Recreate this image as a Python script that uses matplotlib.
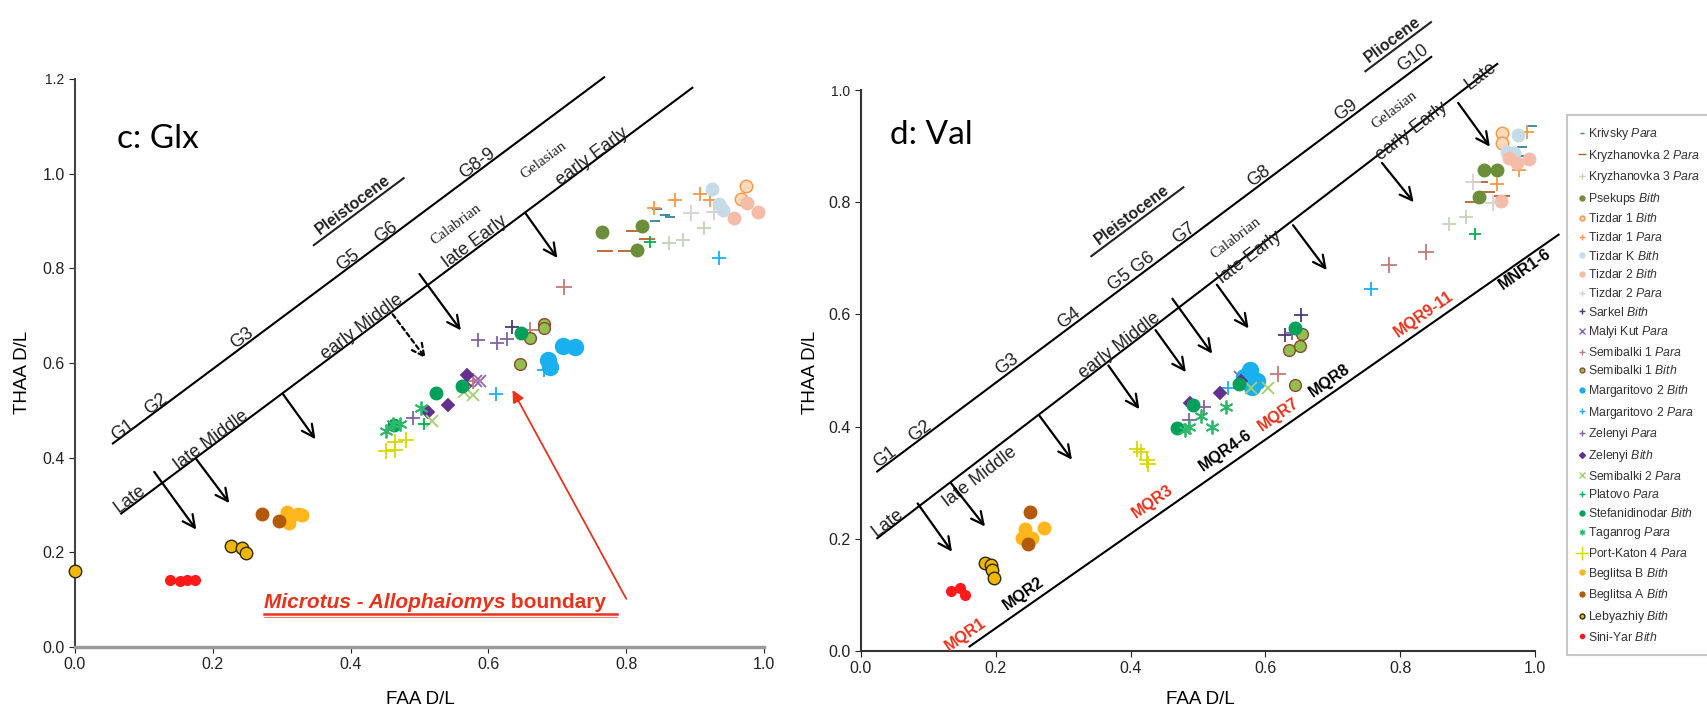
import numpy as np
import matplotlib
matplotlib.use('Agg')
import matplotlib.pyplot as plt
from matplotlib.lines import Line2D

plt.rcParams['font.family'] = ['Liberation Sans', 'DejaVu Sans']
plt.rcParams['mathtext.fontset'] = 'custom'
plt.rcParams['mathtext.it'] = 'Liberation Sans:italic'
plt.rcParams['mathtext.rm'] = 'Liberation Sans'

# ---- series (legend order) ----
names = ['Krivsky Para', 'Kryzhanovka 2 Para', 'Kryzhanovka 3 Para', 'Psekups Bith',
         'Tizdar 1 Bith', 'Tizdar 1 Para', 'Tizdar K Bith', 'Tizdar 2 Bith', 'Tizdar 2 Para',
         'Sarkel Bith', 'Malyi Kut Para', 'Semibalki 1 Para', 'Semibalki 1 Bith',
         'Margaritovo 2 Bith', 'Margaritovo 2 Para', 'Zelenyi Para', 'Zelenyi Bith',
         'Semibalki 2 Para', 'Platovo Para', 'Stefanidinodar Bith', 'Taganrog Para',
         'Port-Katon 4 Para', 'Beglitsa B Bith', 'Beglitsa A Bith', 'Lebyazhiy Bith', 'Sini-Yar Bith']

# ---- c: Glx (FAA x, THAA y) ----
glx_krivsky = ([0.842, 0.857, 0.864, 0.845], [0.900, 0.912, 0.909, 0.925])
glx_kryzh2 = ([0.769, 0.800, 0.812, 0.830], [0.836, 0.836, 0.879, 0.862])
glx_kryzh3 = ([0.862, 0.882, 0.913], [0.853, 0.860, 0.885])
glx_psekups = ([0.765, 0.823, 0.815], [0.877, 0.890, 0.838])
glx_tizdar1_bith = ([0.974, 0.967], [0.975, 0.946])
glx_tizdar1_para = ([0.840, 0.871, 0.907, 0.922], [0.927, 0.944, 0.957, 0.944])
glx_tizdark = ([0.925, 0.934, 0.940], [0.967, 0.935, 0.924])
glx_tizdar2_bith = ([0.956, 0.991, 0.975], [0.907, 0.918, 0.939])
glx_tizdar2_para = ([0.894, 0.928], [0.916, 0.918])
glx_sarkel = ([0.634], [0.676])
glx_malyi = ([0.582, 0.588], [0.561, 0.563])
glx_semib1_para = ([0.709, 0.661, 0.577], [0.761, 0.669, 0.563])
glx_semib1_bith = ([0.680, 0.680, 0.661, 0.646], [0.682, 0.674, 0.652, 0.598])
glx_marg2_bith = ([0.708, 0.725, 0.686, 0.689], [0.636, 0.633, 0.607, 0.592])
glx_marg2_para = ([0.934, 0.611, 0.680], [0.821, 0.535, 0.585])
glx_zelenyi_para = ([0.585, 0.613, 0.627, 0.491], [0.649, 0.643, 0.651, 0.484])
glx_zelenyi_bith = ([0.569, 0.541, 0.513, 0.566], [0.574, 0.512, 0.497, 0.552])
glx_semib2 = ([0.565, 0.577, 0.518], [0.539, 0.533, 0.477])
glx_platovo = ([0.834, 0.507], [0.855, 0.472])
glx_stefan = ([0.463, 0.524, 0.561, 0.648], [0.469, 0.537, 0.552, 0.663])
glx_taganrog = ([0.451, 0.461, 0.471, 0.502], [0.457, 0.472, 0.472, 0.504])
glx_portkaton = ([0.451, 0.465, 0.464, 0.481], [0.414, 0.417, 0.433, 0.437])
glx_beglb = ([0.308, 0.310, 0.324, 0.329], [0.286, 0.262, 0.280, 0.278])
glx_begla = ([0.271, 0.296], [0.280, 0.266])
glx_lebyaz = ([0.0, 0.226, 0.243, 0.248], [0.161, 0.213, 0.209, 0.198])
glx_siniyar = ([0.138, 0.153, 0.163, 0.174], [0.142, 0.140, 0.142, 0.142])

# ---- d: Val ----
val_krivsky = ([0.995, 0.980, 0.977], [0.936, 0.899, 0.883])
val_kryzh2 = ([0.908, 0.919, 0.929, 0.951], [0.800, 0.836, 0.819, 0.811])
val_kryzh3 = ([0.873, 0.897], [0.762, 0.774])
val_psekups = ([0.924, 0.944, 0.917], [0.858, 0.858, 0.810])
val_tizdar1_bith = ([0.951, 0.951], [0.924, 0.905])
val_tizdar1_para = ([0.944, 0.977, 0.988], [0.833, 0.857, 0.926])
val_tizdark = ([0.975, 0.959, 0.969], [0.920, 0.890, 0.887])
val_tizdar2_bith = ([0.950, 0.973, 0.991, 0.962], [0.803, 0.869, 0.877, 0.878])
val_tizdar2_para = ([0.908, 0.938], [0.836, 0.799])
val_sarkel = ([0.653, 0.629], [0.599, 0.564])
val_malyi = ([0.562], [0.489])
val_semib1_para = ([0.618, 0.783, 0.839], [0.493, 0.688, 0.711])
val_semib1_bith = ([0.635, 0.651, 0.654, 0.644], [0.536, 0.544, 0.565, 0.474])
val_marg2_bith = ([0.577, 0.588, 0.580, 0.568], [0.501, 0.482, 0.470, 0.489])
val_marg2_para = ([0.544, 0.757], [0.468, 0.645])
val_zelenyi_para = ([0.509, 0.486, 0.640], [0.435, 0.412, 0.566])
val_zelenyi_bith = ([0.488, 0.533, 0.564], [0.442, 0.460, 0.482])
val_semib2 = ([0.604, 0.579], [0.468, 0.468])
val_platovo = ([0.911], [0.743])
val_stefan = ([0.469, 0.493, 0.561, 0.644], [0.397, 0.439, 0.476, 0.576])
val_taganrog = ([0.480, 0.486, 0.504, 0.521, 0.542], [0.394, 0.400, 0.419, 0.400, 0.435])
val_portkaton = ([0.409, 0.416, 0.424, 0.426], [0.360, 0.355, 0.341, 0.334])
val_beglb = ([0.244, 0.239, 0.253, 0.271], [0.218, 0.201, 0.201, 0.219])
val_begla = ([0.251, 0.248], [0.248, 0.190])
val_lebyaz = ([0.184, 0.193, 0.195, 0.197], [0.156, 0.153, 0.144, 0.131])
val_siniyar = ([0.133, 0.147, 0.155], [0.107, 0.112, 0.099])

glx_series = [glx_krivsky, glx_kryzh2, glx_kryzh3, glx_psekups, glx_tizdar1_bith, glx_tizdar1_para,
              glx_tizdark, glx_tizdar2_bith, glx_tizdar2_para, glx_sarkel, glx_malyi, glx_semib1_para,
              glx_semib1_bith, glx_marg2_bith, glx_marg2_para, glx_zelenyi_para, glx_zelenyi_bith,
              glx_semib2, glx_platovo, glx_stefan, glx_taganrog, glx_portkaton, glx_beglb, glx_begla,
              glx_lebyaz, glx_siniyar]
val_series = [val_krivsky, val_kryzh2, val_kryzh3, val_psekups, val_tizdar1_bith, val_tizdar1_para,
              val_tizdark, val_tizdar2_bith, val_tizdar2_para, val_sarkel, val_malyi, val_semib1_para,
              val_semib1_bith, val_marg2_bith, val_marg2_para, val_zelenyi_para, val_zelenyi_bith,
              val_semib2, val_platovo, val_stefan, val_taganrog, val_portkaton, val_beglb, val_begla,
              val_lebyaz, val_siniyar]

# marker, face, edge, size(pt), legend size
styles = [
    ('_', '#31849B', '#31849B', 7, 3),
    ('_', '#B7622B', '#B7622B', 11, 6),
    ('+', '#C5D3B8', '#C5D3B8', 10, 5),
    ('o', '#6B8E3A', '#6B8E3A', 9, 3.5),
    ('o', '#FBD9BC', '#F79646', 9, 3.5),
    ('+', '#F79646', '#F79646', 10, 5),
    ('o', '#C6DBE8', '#C6DBE8', 9, 3.5),
    ('o', '#F5BCA8', '#F5BCA8', 9, 3.5),
    ('+', '#D8CFD2', '#D8CFD2', 11, 5),
    ('+', '#4A3A7A', '#4A3A7A', 10, 5),
    ('x', '#8E66C0', '#8E66C0', 9, 4),
    ('+', '#C47A7A', '#C47A7A', 11, 5),
    ('o', '#92C050', '#8B4A2B', 8.5, 3.5),
    ('o', '#1AAFEF', '#1AAFEF', 11.5, 3.5),
    ('+', '#1AAFEF', '#1AAFEF', 10, 5),
    ('+', '#8064A2', '#8064A2', 10, 5),
    ('D', '#62308F', '#62308F', 6.5, 3),
    ('x', '#A3CF6E', '#A3CF6E', 9, 4),
    ('+', '#00B050', '#00B050', 9, 5),
    ('o', '#00A05A', '#00A05A', 9, 3.5),
    ((6, 2, 0), '#2EB86A', '#2EB86A', 10, 4),
    ('+', '#D8D800', '#D8D800', 12, 10),
    ('o', '#FFB51C', '#FFB51C', 9, 3.5),
    ('o', '#B35A0A', '#B35A0A', 9, 3.5),
    ('o', '#F2B705', '#2A2A00', 9, 3.5),
    ('o', '#FF1A1A', '#FF1A1A', 7, 3),
]

fig = plt.figure(figsize=(17.08, 7.22), dpi=100)
W, H = 1708.0, 722.0
axc = fig.add_axes([75 / W, 1 - 647 / H, 689 / W, 568 / H])
axd = fig.add_axes([861 / W, 1 - 651 / H, 674 / W, 561 / H])
axc.set_xlim(0, 1)
axc.set_ylim(0, 1.2)
axd.set_xlim(0, 1)
axd.set_ylim(0, 1)


def draw_points(ax, series):
    for (xs, ys), (m, fc, ec, ms, _) in zip(series, styles):
        lw = 1.0 if m == 'o' else 1.3
        ax.plot(xs, ys, ls='', marker=m, ms=ms, mfc=fc, mec=ec, mew=lw, clip_on=False, zorder=3)


draw_points(axc, glx_series)
draw_points(axd, val_series)

for ax in (axc, axd):
    for s in ('top', 'right'):
        ax.spines[s].set_visible(False)
    ax.tick_params(direction='out', length=4, labelsize=11.5, colors='#222222')
    ax.set_xticks(np.arange(0, 1.01, 0.2))
    ax.xaxis.set_major_formatter(matplotlib.ticker.FormatStrFormatter('%.1f'))
    ax.yaxis.set_major_formatter(matplotlib.ticker.FormatStrFormatter('%.1f'))
axc.set_yticks(np.arange(0, 1.21, 0.2))
axd.set_yticks(np.arange(0, 1.01, 0.2))
axc.spines['left'].set_color('#444444')
axc.spines['left'].set_linewidth(1.5)
axc.spines['bottom'].set_color('#9A9A9A')
axc.spines['bottom'].set_linewidth(2.5)
for s in ('left', 'bottom'):
    axd.spines[s].set_color('#333333')
    axd.spines[s].set_linewidth(1.5)
axc.get_yticklabels()[-1].set_fontsize(10)
axd.get_yticklabels()[-1].set_fontsize(10)

fig.text(23 / W, 1 - 372 / H, 'THAA D/L', rotation=90, ha='center', va='center', fontsize=13.5)
fig.text(811 / W, 1 - 372 / H, 'THAA D/L', rotation=90, ha='center', va='center', fontsize=13.5)
fig.text(420 / W, 1 - 700 / H, 'FAA D/L', ha='center', va='center', fontsize=13.5)
fig.text(1200 / W, 1 - 700 / H, 'FAA D/L', ha='center', va='center', fontsize=13.5)

axc.text(0.12, 1.074, 'c: Glx', fontsize=24, family=['Lato', 'DejaVu Sans'], ha='center', va='center')
axd.text(0.104, 0.920, 'd: Val', fontsize=24, family=['Lato', 'DejaVu Sans'], ha='center', va='center')


def line_text(ax, x, y, s, slope, size=12.5, **kw):
    ang = np.degrees(np.arctan(slope))
    kw.setdefault('color', '#222222')
    return ax.text(x, y, s, rotation=ang, rotation_mode='anchor', ha='center', va='center',
                   transform_rotates_text=True, fontsize=size, clip_on=False, **kw)


def shifted(ax, x, y, slope, along=0.0, off=0.0):
    # move a data point along a line of given slope and perpendicular to it, in pixels
    p = ax.transData.transform((x, y))
    q = ax.transData.transform((x + 0.1, y + 0.1 * slope))
    u = (q - p) / np.hypot(*(q - p))
    n = np.array([-u[1], u[0]])
    return ax.transData.inverted().transform(p + u * along + n * off)


def on_line_text(ax, line, xpos, off, s, **kw):
    (x0, y0), slope = line
    px, py = shifted(ax, xpos, y0 + slope * (xpos - x0), slope, 0, off)
    return line_text(ax, px, py, s, slope, **kw)


def underline(ax, x, y, slope, length, off, color='#222222', lw=1.5):
    a = shifted(ax, x, y, slope, -length / 2, -off)
    b = shifted(ax, x, y, slope, length / 2, -off)
    ax.plot([a[0], b[0]], [a[1], b[1]], color=color, lw=lw, clip_on=False)


def arrow(ax, start, end, ls='-', color='k', lw=1.6, style='->', scale=22):
    ax.annotate('', xy=end, xytext=start, annotation_clip=False,
                arrowprops=dict(arrowstyle=style, color=color, lw=lw, ls=ls,
                                mutation_scale=scale, shrinkA=0, shrinkB=0))


# ---- c: Glx decorations ----
sc = 1.085
axc.plot([0.055, 0.768], [0.430, 0.430 + sc * 0.713], color='k', lw=1.5, clip_on=False)
axc.plot([0.067, 0.896], [0.282, 0.282 + sc * 0.829], color='k', lw=1.5, clip_on=False)
for x, y, s in [(0.070, 0.457, 'G1'), (0.118, 0.512, 'G2'), (0.242, 0.652, 'G3'),
                (0.397, 0.818, 'G5'), (0.452, 0.877, 'G6'), (0.584, 1.022, 'G8-9')]:
    line_text(axc, x, y, s, sc, size=13)
line_text(axc, 0.404, 0.935, 'Pleistocene', sc, size=11.5, weight='bold')
underline(axc, 0.404, 0.935, sc, 112, 9)
for x, y, s in [(0.080, 0.312, 'Late'), (0.198, 0.437, 'late Middle'), (0.417, 0.676, 'early Middle'),
                (0.580, 0.857, 'late Early'), (0.750, 1.035, 'early Early')]:
    line_text(axc, x, y, s, sc, size=13)
line_text(axc, 0.553, 0.893, 'Calabrian', sc, size=11, family='Liberation Serif')
line_text(axc, 0.680, 1.028, 'Gelasian', sc, size=11, family='Liberation Serif')
for st, en in [((0.115, 0.370), (0.176, 0.248)), ((0.176, 0.397), (0.224, 0.304)),
               ((0.302, 0.534), (0.349, 0.439)), ((0.500, 0.788), (0.560, 0.669)),
               ((0.654, 0.916), (0.700, 0.822))]:
    arrow(axc, st, en)
arrow(axc, (0.461, 0.703), (0.509, 0.610), ls=(0, (2, 1.5)))
arrow(axc, (0.800, 0.102), (0.635, 0.543), color='#E8331C', lw=1.3, style='-|>', scale=18)
t1 = axc.text(0.274, 0.094, 'Microtus - Allophaiomys', color='#E8331C', fontsize=15,
              weight='bold', style='italic', ha='left', va='center')
axc.annotate(' boundary', xy=(1, 0.5), xycoords=t1, color='#E8331C', fontsize=15,
             weight='bold', ha='left', va='center')
axc.plot([0.274, 0.786], [0.070, 0.070], color='#E8331C', lw=1.8)
axc.plot([0.274, 0.786], [0.064, 0.064], color='#F08070', lw=0.8)

# ---- d: Val decorations ----
su, sl, sb = 0.899, 0.919, 0.84
axd.plot([0.024, 0.846], [0.320, 0.320 + su * 0.822], color='k', lw=1.5, clip_on=False)
axd.plot([0.024, 0.944], [0.201, 0.201 + sl * 0.920], color='k', lw=1.5, clip_on=False)
axd.plot([0.161, 1.035], [0.008, 0.008 + sb * 0.874], color='k', lw=1.5, clip_on=False)
for x, y, s in [(0.036, 0.346, 'G1'), (0.087, 0.391, 'G2'), (0.217, 0.512, 'G3'), (0.308, 0.594, 'G4'),
                (0.402, 0.677, 'G5 G6'), (0.479, 0.745, 'G7'), (0.591, 0.846, 'G8'),
                (0.719, 0.964, 'G9'), (0.819, 1.056, 'G10')]:
    line_text(axd, x, y, s, su, size=13)
line_text(axd, 0.402, 0.778, 'Pleistocene', su, size=11.5, weight='bold')
underline(axd, 0.402, 0.778, su, 115, 9)
line_text(axd, 0.789, 1.090, 'Pliocene', su, size=11.5, weight='bold')
underline(axd, 0.789, 1.090, su, 82, 9)
for x, y, s in [(0.040, 0.229, 'Late'), (0.177, 0.311, 'late Middle'), (0.384, 0.545, 'early Middle'),
                (0.576, 0.702, 'late Early'), (0.817, 0.926, 'early Early'), (0.920, 1.025, 'Late')]:
    line_text(axd, x, y, s, sl, size=13)
line_text(axd, 0.556, 0.735, 'Calabrian', sl, size=11, family='Liberation Serif')
line_text(axd, 0.791, 0.965, 'Gelasian', sl, size=11, family='Liberation Serif')
for st, en in [((0.084, 0.263), (0.135, 0.177)), ((0.133, 0.300), (0.184, 0.222)),
               ((0.265, 0.419), (0.313, 0.341)), ((0.367, 0.509), (0.413, 0.431)),
               ((0.437, 0.572), (0.482, 0.497)), ((0.462, 0.628), (0.521, 0.530)),
               ((0.528, 0.653), (0.575, 0.575)), ((0.641, 0.759), (0.691, 0.679)),
               ((0.773, 0.870), (0.820, 0.800)), ((0.886, 0.977), (0.933, 0.899))]:
    arrow(axd, st, en)
bottom_line = ((0.161, 0.008), sb)
for xpos, off, s, c in [(0.165, 12, 'MQR1', '#E8331C'), (0.252, 12, 'MQR2', 'k'),
                        (0.445, 14, 'MQR3', '#E8331C'), (0.553, 14, 'MQR4-6', 'k'),
                        (0.630, 13, 'MQR7', '#E8331C'), (0.705, 12, 'MQR8', 'k'),
                        (0.845, 12, 'MQR9-11', '#E8331C'), (0.978, -9, 'MNR1-6', 'k')]:
    on_line_text(axd, bottom_line, xpos, off, s, size=11.5, weight='bold', color=c)

# ---- legend ----
handles = []
labels = []
for name, (m, fc, ec, ms, lms) in zip(names, styles):
    site, kind = name.rsplit(' ', 1)
    handles.append(Line2D([], [], ls='', marker=m, ms=lms, mfc=fc, mec=ec, mew=1.0))
    labels.append(site + r' $\it{' + kind + '}$')
leg = fig.legend(handles, labels, loc='upper left', bbox_to_anchor=(1567 / W, 1 - 115 / H),
                 frameon=True, fancybox=False, edgecolor='#BBBBBB', fontsize=8.8,
                 handlelength=0.6, handletextpad=0.25, labelspacing=0.46, borderpad=0.9,
                 borderaxespad=0)
leg.get_frame().set_linewidth(1.5)
for t in leg.get_texts():
    t.set_color('#333333')

fig.savefig('out.png', dpi=100)
